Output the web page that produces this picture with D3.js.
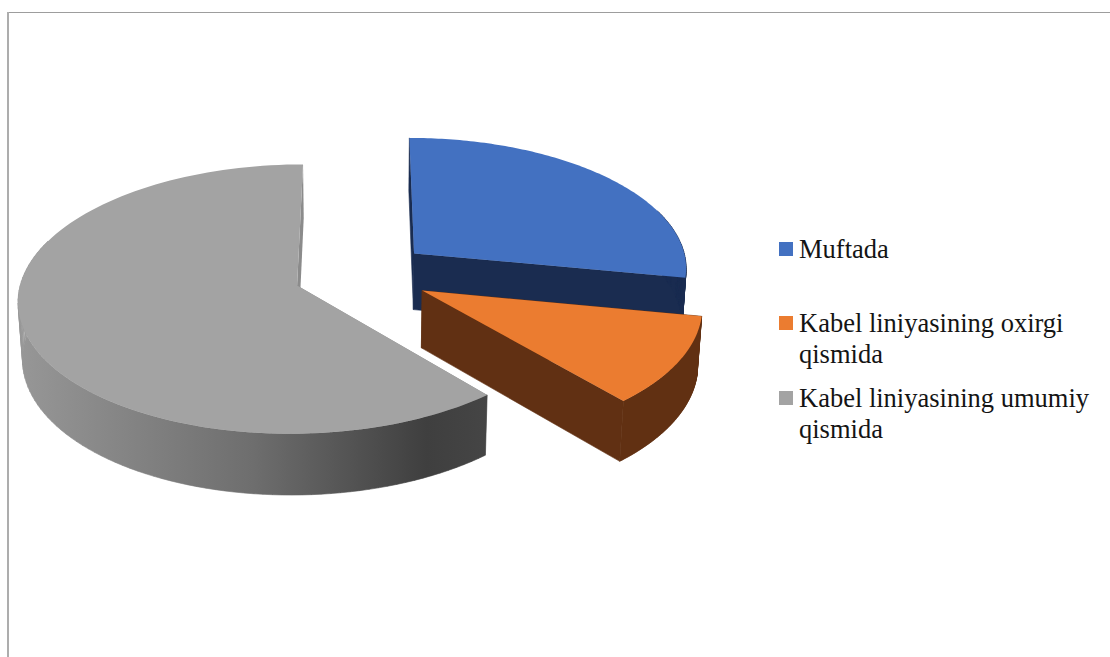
<!DOCTYPE html>
<html>
<head>
<meta charset="utf-8">
<style>
  html, body { margin: 0; padding: 0; background: #fff; }
  svg { display: block; }
  text { font-family: "Liberation Serif", serif; font-size: 26.5px; fill: #141414; }
</style>
<script src="https://cdnjs.cloudflare.com/ajax/libs/d3/7.8.5/d3.min.js"></script>
</head>
<body>
<svg id="chart" width="1110" height="657"></svg>
<script>
// Share of cable faults by location
const categories = ["Muftada", "Kabel liniyasining oxirgi qismida", "Kabel liniyasining umumiy qismida"];
const values = [28, 10.7, 61.3];
const legendLines = [["Muftada"], ["Kabel liniyasining oxirgi", "qismida"], ["Kabel liniyasining umumiy", "qismida"]];
const topColors = ["#4371c1", "#eb7c30", "#a3a3a3"];
const wallColors = ["#1a2c50", "#613013", "#8b8b8b"];
const outerStops = [[0, "#979797"], [0.5, "#6e6e6e"], [0.87, "#3f3f3f"], [1, "#454545"]];

const svg = d3.select("#chart");
const width = 1110, height = 657;

// Frame of the chart area: only the top and left edges are in view
svg.append("line").attr("x1", 7).attr("x2", width).attr("y1", 12.5).attr("y2", 12.5)
  .attr("stroke", "#9d9d9d").attr("stroke-width", 1);
svg.append("line").attr("x1", 8).attr("x2", 8).attr("y1", 12).attr("y2", height)
  .attr("stroke", "#adadad").attr("stroke-width", 2);

// Perspective camera for the tilted disc
const view = { cx: 362, cy: 274, rx: 274.5, ry: 131, depth: 57.5, kBack: 0.1, kDown: 0.013, explode: 0.25 };

function project(u, v, z) {
  const s = 1 / (1 + view.kBack * v + view.kDown * z);
  return [view.cx + view.rx * u * s, view.cy + (-view.ry * v + view.depth * z) * s];
}

const pie = d3.pie().sort(null).value(d => d);
const arcs = pie(values);
const line = d3.line();

const defs = svg.append("defs");
const grad = defs.append("linearGradient").attr("id", "outerWall");
grad.selectAll("stop").data(outerStops).join("stop")
  .attr("offset", d => d[0]).attr("stop-color", d => d[1]);

arcs.forEach((arc, i) => {
  const mid = (arc.startAngle + arc.endAngle) / 2;
  const u0 = view.explode * Math.sin(mid);
  const v0 = view.explode * Math.cos(mid);
  const apex = z => project(u0, v0, z);
  const rim = (a, z) => project(u0 + Math.sin(a), v0 + Math.cos(a), z);
  const steps = d3.range(0, 121).map(t => arc.startAngle + (arc.endAngle - arc.startAngle) * t / 120);

  const g = svg.append("g").attr("class", "slice").datum(categories[i]);

  // Radial cut faces
  [arc.startAngle, arc.endAngle].forEach(a => {
    g.append("path")
      .attr("d", line([apex(0), rim(a, 0), rim(a, 1), apex(1)]) + "Z")
      .attr("fill", wallColors[i])
      .attr("stroke", i === 2 ? "none" : wallColors[i])
      .attr("stroke-width", 0.6);
  });

  // Curved outer wall, swept as one strip of quads so the side tangent is filled
  const visible = steps.filter(a => Math.cos(a) < 0.35);
  if (visible.length > 1) {
    const strip = d3.pairs(visible)
      .map(([a, b]) => line([rim(a, 0), rim(b, 0), rim(b, 1), rim(a, 1)]) + "Z")
      .join("");
    g.append("path")
      .attr("d", strip)
      .attr("fill", i === 2 ? "url(#outerWall)" : wallColors[i])
      .attr("stroke", i === 2 ? "url(#outerWall)" : wallColors[i])
      .attr("stroke-width", 0.6);
  }

  // Top face
  const top = [apex(0)].concat(steps.map(a => rim(a, 0)));
  g.append("path").attr("d", line(top) + "Z").attr("fill", topColors[i]);
});

// Legend
const legendY = d3.scaleOrdinal().domain(categories).range([258, 332, 407]);
const lineGap = 31;
const legend = svg.append("g").attr("class", "legend");
categories.forEach((c, i) => {
  const y = legendY(c);
  legend.append("rect").attr("x", 779).attr("y", y - 16).attr("width", 14).attr("height", 14)
    .attr("fill", topColors[i]);
  legendLines[i].forEach((t, j) => {
    legend.append("text").attr("x", 799).attr("y", y + j * lineGap).text(t);
  });
});
</script>
</body>
</html>
